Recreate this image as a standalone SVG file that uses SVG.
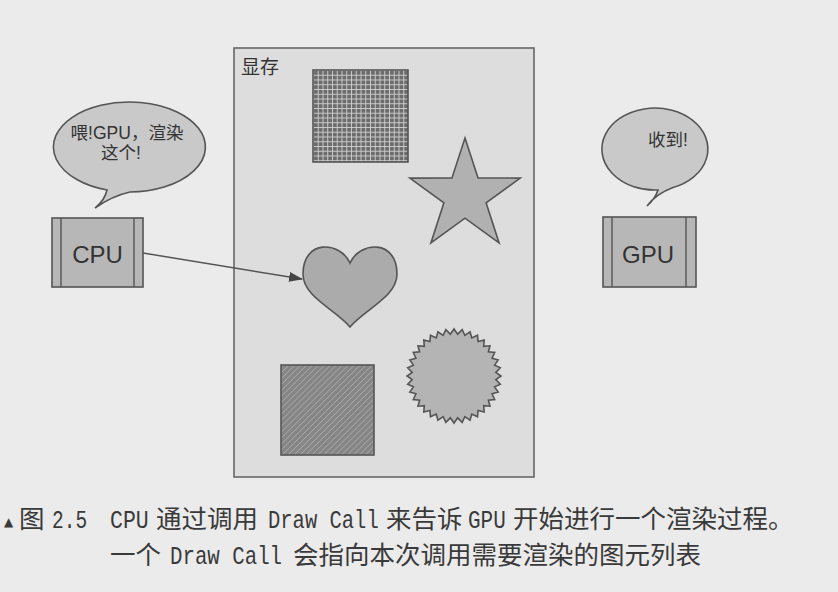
<svg xmlns="http://www.w3.org/2000/svg" width="838" height="592" viewBox="0 0 838 592">
<defs>
<style>
.shape{stroke:#555;stroke-width:1.6}
.box{fill:#b7b7b7;stroke:#555;stroke-width:1.6}
.bubble{fill:#c9c9c9;stroke:#555;stroke-width:1.6}
.lbl{font-family:"Liberation Sans","Noto Sans CJK SC",sans-serif;fill:#333}
.cjk{font-family:"Noto Sans CJK SC",sans-serif;fill:#3a3a3a;font-size:25.5px}
.tri{font-family:"DejaVu Sans",sans-serif;fill:#3a3a3a;font-size:12px}
.mono{font-family:"Liberation Mono","Noto Sans CJK SC",monospace;fill:#3a3a3a;font-size:25px}
</style>
<pattern id="grid" width="4.75" height="4.75" patternUnits="userSpaceOnUse" x="313" y="70">
<rect width="4.75" height="4.75" fill="#6c6c6c"/>
<path d="M0 0.5H4.75M0.5 0V4.75" stroke="#cfcfcf" stroke-width="0.9"/>
</pattern>
<pattern id="hatch" width="4.2" height="4.2" patternUnits="userSpaceOnUse" patternTransform="rotate(45)">
<rect width="4.2" height="4.2" fill="#858585"/>
<path d="M0 0V4.2" stroke="#bdbdbd" stroke-width="1"/>
</pattern>
<marker id="arr" markerWidth="14" markerHeight="10" refX="13" refY="5" orient="auto" markerUnits="userSpaceOnUse">
<path d="M0 0L14 5L0 10Z" fill="#444"/>
</marker>
</defs>
<rect width="838" height="592" fill="#ebebeb"/>
<g id="vram">
<rect x="234" y="48" width="300" height="429" fill="#dddddd" stroke="#666" stroke-width="1.6"/>
<text x="241" y="74" class="lbl" font-size="19" font-family="Noto Sans CJK SC">显存</text>
</g>
<g id="grid-square"><rect x="313" y="70" width="95" height="92" fill="url(#grid)" class="shape"/></g>
<g id="star"><polygon class="shape" fill="#b1b1b1" points="465,138 478.05,178.04 520.16,178.08 486.11,202.86 499.09,242.92 465,218.2 430.91,242.92 443.89,202.86 409.84,178.08 451.95,178.04"/></g>
<g id="heart"><path class="shape" fill="#ababab" d="M350,263 C340,241 303,239 303,274 C303,297 335,309 350,327 C365,309 397,297 397,274 C397,239 360,241 350,263 Z"/></g>
<g id="hatch-square"><rect x="281" y="365" width="93" height="90" fill="url(#hatch)" class="shape"/></g>
<g id="starburst"><polygon class="shape" fill="#b4b4b4" points="501,376 495.84,379.66 500.28,384.16 494.57,386.87 498.17,392.07 492.06,393.75 494.70,399.5 488.41,400.09 490,406.21 483.70,405.70 484.21,412 478.09,410.41 477.5,416.70 471.75,414.06 470.07,420.17 464.87,416.57 462.16,422.28 457.66,417.84 454,423 450.34,417.84 445.84,422.28 443.13,416.57 437.93,420.17 436.25,414.06 430.5,416.70 429.91,410.41 423.79,412 424.30,405.70 418,406.21 419.59,400.09 413.30,399.5 415.94,393.75 409.83,392.07 413.43,386.87 407.72,384.16 412.16,379.66 407,376 412.16,372.34 407.72,367.84 413.43,365.13 409.83,359.93 415.94,358.25 413.30,352.5 419.59,351.91 418,345.79 424.30,346.30 423.79,340 429.91,341.59 430.5,335.30 436.25,337.94 437.93,331.83 443.13,335.43 445.84,329.72 450.34,334.16 454,329 457.66,334.16 462.16,329.72 464.87,335.43 470.07,331.83 471.75,337.94 477.5,335.30 478.09,341.59 484.21,340 483.70,346.30 490,345.79 488.41,351.91 494.70,352.5 492.06,358.25 498.17,359.93 494.57,365.13 500.28,367.84 495.84,372.34"/></g>
<g id="cpu">
<rect x="52" y="218" width="91" height="69" class="box"/>
<path d="M61 218V287M134 218V287" stroke="#555" stroke-width="1.4"/>
<text x="97.5" y="263" class="lbl" font-size="24" text-anchor="middle">CPU</text>
</g>
<g id="cpu-bubble">
<path class="bubble" d="M107,190 A76 45 0 1 1 130,192 Q112,196 95,208 Q105,200 107,190 Z"/>
<text x="127" y="139" class="lbl" font-size="17.5" text-anchor="middle">喂!GPU，渲染</text>
<text x="121" y="159" class="lbl" font-size="17.5" text-anchor="middle">这个!</text>
</g>
<g id="gpu">
<rect x="603" y="217" width="93" height="70" class="box"/>
<path d="M612 217V287M686 217V287" stroke="#555" stroke-width="1.4"/>
<text x="648" y="263" class="lbl" font-size="24" text-anchor="middle">GPU</text>
</g>
<g id="gpu-bubble">
<path class="bubble" d="M658,190 A53 41 0 1 1 673,187.6 Q656,194 647,206 Q655,199 658,190 Z"/>
<text x="668" y="146" class="lbl" font-size="17.5" text-anchor="middle">收到!</text>
</g>
<g id="connectors">
<line x1="143" y1="253" x2="302" y2="279" stroke="#555" stroke-width="1.5" marker-end="url(#arr)"/>
</g>
<g id="caption">
<text x="4" y="526" class="tri">▲</text>
<text x="19" y="528" class="cjk">图</text>
<text transform="translate(52,528) scale(0.78,1)" class="mono">2.5</text>
<text transform="translate(110,528) scale(0.86,1)" class="mono">CPU</text>
<text x="156" y="528" class="cjk">通过调用</text>
<text transform="translate(268,528) scale(0.82,1)" class="mono">Draw Call</text>
<text x="386" y="528" class="cjk">来告诉</text>
<text transform="translate(468,528) scale(0.84,1)" class="mono">GPU</text>
<text x="513" y="528" class="cjk">开始进行一个渲染过程。</text>
<text x="110" y="564" class="cjk">一个</text>
<text transform="translate(170,564) scale(0.83,1)" class="mono">Draw Call</text>
<text x="293" y="564" class="cjk">会指向本次调用需要渲染的图元列表</text>
</g>
</svg>
